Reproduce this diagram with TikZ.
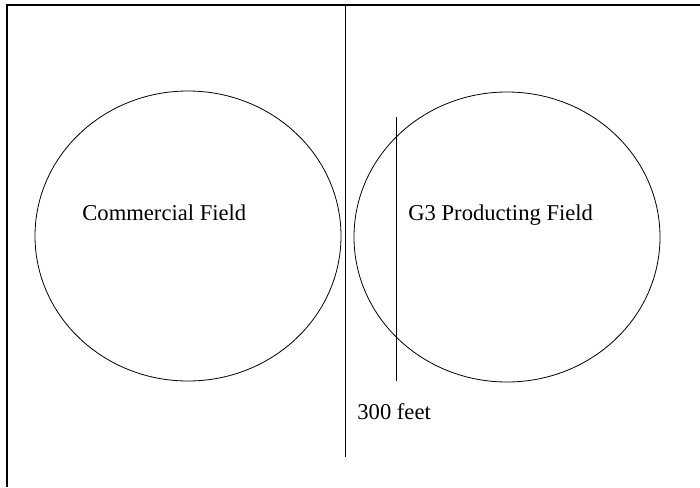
\documentclass[tikz,border=0pt]{standalone}
\usepackage{fontspec}
\setmainfont{Liberation Serif}
\usepackage{tikz}
\usetikzlibrary{positioning}

\begin{document}
\begin{tikzpicture}[x=1pt, y=-1pt, line width=0.8pt,
    lab/.style={anchor=base west, inner sep=0pt, font=\fontsize{22.6}{26}\selectfont}]
  \useasboundingbox (0,0) rectangle (700,487);
  % frame (top and left only)
  \draw[line width=1.6pt] (700,5) -- (7,5) -- (7,487);
  % the two fields
  \draw (188,236) ellipse [x radius=153, y radius=145];
  \draw (507,237) ellipse [x radius=153, y radius=145];
  \node[lab] (commercial) at (82,220) {Commercial Field};
  \node[lab] (producing) at (408,220) {G3 Producting Field};
  % separation lines
  \coordinate (sepTop) at (345,5);
  \coordinate (sepBot) at (345,457);
  \draw (sepTop) -- (sepBot);
  \coordinate (edgeTop) at (396,117);
  \coordinate (edgeBot) at (396,381);
  \draw (edgeTop) -- (edgeBot);
  \node[lab] (dist) at (357,419) {300 feet};
\end{tikzpicture}
\end{document}
